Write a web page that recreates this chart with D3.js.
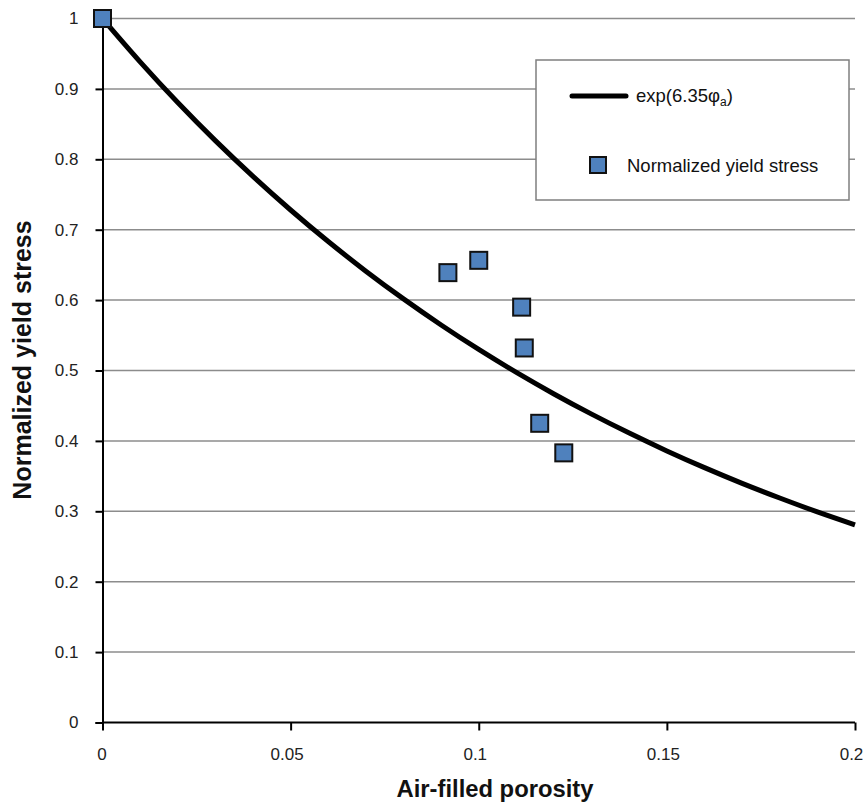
<!DOCTYPE html>
<html><head><meta charset="utf-8">
<script src="https://cdn.jsdelivr.net/npm/d3@7"></script>
<style>body{margin:0;background:#fff}svg{display:block}text{font-family:"Liberation Sans",Arial,sans-serif}</style>
</head><body>
<script>
// Data
const porosity = [0, 0.0918, 0.1000, 0.1114, 0.1121, 0.1162, 0.1226];
const yieldStress = [1.0, 0.639, 0.6565, 0.590, 0.532, 0.425, 0.383];
const curveX = [0,0.01,0.02,0.03,0.04,0.05,0.06,0.07,0.08,0.09,0.10,0.11,0.12,0.13,0.14,0.15,0.16,0.17,0.18,0.19,0.20];
const curveY = [1.000,0.9385,0.8807,0.8265,0.7757,0.7280,0.6832,0.6411,0.6017,0.5647,0.5299,0.4973,0.4667,0.4380,0.4111,0.3858,0.3620,0.3397,0.3189,0.2992,0.2808];
const xTicks = [0, 0.05, 0.1, 0.15, 0.2];
const yTicks = [0,0.1,0.2,0.3,0.4,0.5,0.6,0.7,0.8,0.9,1];
const seriesNames = ["exp(6.35φa)", "Normalized yield stress"];

const W = 863, H = 804;
const svg = d3.select("body").append("svg").attr("width", W).attr("height", H);
const x = d3.scaleLinear().domain([0, 0.2]).range([102.5, 855]);
const y = d3.scaleLinear().domain([0, 1]).range([722.5, 18.5]);

// gridlines
svg.append("g").selectAll("line").data(yTicks.filter(d => d > 0)).join("line")
  .attr("x1", x(0)).attr("x2", x(0.2)).attr("y1", d => y(d)).attr("y2", d => y(d))
  .attr("stroke", "#8c8c8c").attr("stroke-width", 1.5);

// y axis
const yAxis = svg.append("g").attr("transform", `translate(${x(0)},0)`)
  .call(d3.axisLeft(y).tickValues(yTicks).tickSize(7).tickFormat(d => d3.format("")(+d.toFixed(1))));
yAxis.select(".domain").attr("stroke", "#000").attr("stroke-width", 2);
yAxis.selectAll(".tick line").attr("stroke", "#000").attr("stroke-width", 2);
yAxis.selectAll(".tick text").attr("font-size", 17).attr("x", -24).attr("fill", "#222")
  .attr("font-family", "'Liberation Sans',Arial,sans-serif");

// x axis
const xAxis = svg.append("g").attr("transform", `translate(0,${y(0)})`)
  .call(d3.axisBottom(x).tickValues(xTicks).tickSize(8).tickFormat(d => d3.format("")(+d.toFixed(2))));
xAxis.select(".domain").attr("stroke", "#000").attr("stroke-width", 2).attr("d", `M${x(0)},0H${x(0.2)}`);
xAxis.selectAll(".tick line").attr("stroke", "#000").attr("stroke-width", 2);
xAxis.selectAll(".tick text").attr("font-size", 17).attr("y", 25).attr("dx", d => d === 0 ? -1 : -4)
  .attr("fill", "#222").attr("font-family", "'Liberation Sans',Arial,sans-serif");

// curve
const line = d3.line().x((d, i) => x(curveX[i])).y(d => y(d)).curve(d3.curveMonotoneX);
svg.append("path").datum(curveY).attr("d", line).attr("fill", "none")
  .attr("stroke", "#000").attr("stroke-width", 5);

// points
const S = 17;
svg.append("g").selectAll("rect").data(porosity).join("rect")
  .attr("x", (d) => x(d) - S/2).attr("y", (d, i) => y(yieldStress[i]) - S/2)
  .attr("width", S).attr("height", S)
  .attr("fill", "#4f81bd").attr("stroke", "#111").attr("stroke-width", 2);

// legend
const lg = svg.append("g");
lg.append("rect").attr("x", 536).attr("y", 60).attr("width", 313).attr("height", 140)
  .attr("fill", "#fff").attr("stroke", "#7f7f7f").attr("stroke-width", 1.5);
lg.append("line").attr("x1", 572).attr("x2", 626).attr("y1", 96).attr("y2", 96)
  .attr("stroke", "#000").attr("stroke-width", 5).attr("stroke-linecap", "round");
const t1 = lg.append("text").attr("x", 636).attr("y", 102).attr("font-size", 18.5).attr("fill", "#111");
t1.append("tspan").text("exp(6.35φ");
t1.append("tspan").text("a").attr("font-size", 12).attr("dy", 4);
t1.append("tspan").text(")").attr("dy", -4);
lg.append("rect").attr("x", 590).attr("y", 157).attr("width", 16).attr("height", 16)
  .attr("fill", "#4f81bd").attr("stroke", "#111").attr("stroke-width", 2);
lg.append("text").attr("x", 627).attr("y", 172).attr("font-size", 18.5).attr("fill", "#111").text(seriesNames[1]);

// axis titles
svg.append("text").attr("x", 495).attr("y", 797).attr("text-anchor", "middle")
  .attr("font-size", 23.8).attr("font-weight", "bold").attr("fill", "#111").text("Air-filled porosity");
svg.append("text").attr("transform", "translate(31,360) rotate(-90)").attr("text-anchor", "middle")
  .attr("font-size", 25).attr("font-weight", "bold").attr("fill", "#111").text("Normalized yield stress");
</script>
</body></html>
